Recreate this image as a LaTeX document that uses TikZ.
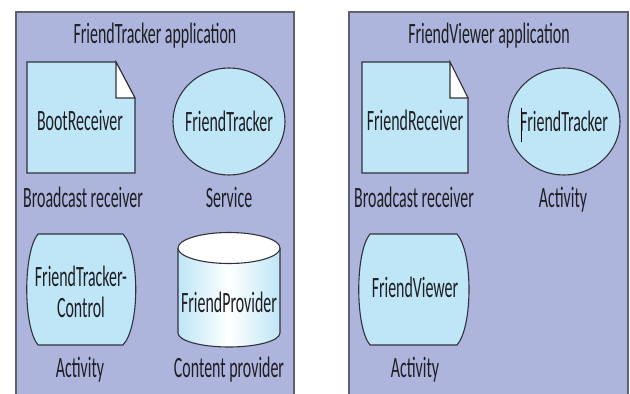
\documentclass[tikz,border=0pt]{standalone}
\usepackage{fontspec}
\setmainfont{Carlito}[FakeStretch=0.54]
\definecolor{panelfill}{RGB}{173,181,221}
\definecolor{shapefill}{RGB}{190,230,246}
\definecolor{edgecol}{RGB}{50,50,60}
\definecolor{panelline}{RGB}{95,95,110}
\definecolor{txt}{RGB}{30,30,35}
\begin{document}
\begin{tikzpicture}[x=1pt,y=-1pt,
  lbl/.style={anchor=base, inner sep=0pt, align=center, text=txt, font=\fontsize{29.5}{31}\selectfont},
  shapeline/.style={draw=edgecol, line width=1.1pt, fill=shapefill},
  panel/.style={draw=panelline, line width=1.3pt, fill=panelfill}]
\useasboundingbox (0,0) rectangle (630,394);
\clip (0,0) rectangle (630,394);
\fill[white] (0,0) rectangle (630,394);

% panels
\draw[panel] (16,12) rectangle (294,420);
\draw[panel] (349,12) rectangle (628,420);

\node[lbl] (t1) at (155,43) {FriendTracker application};
\node[lbl] (t2) at (489,43) {FriendViewer application};

% ---------- left panel ----------
% broadcast receiver document
\draw[shapeline] (27,62) -- (116,62) -- (135,98) -- (135,173) -- (27,173) -- cycle;
\draw[draw=edgecol, line width=1.1pt, fill=white] (116,62) -- (135,98) -- (116,98) -- cycle;
\node[lbl] (boot) at (80,130) {BootReceiver};
\node[lbl] (bootl) at (83,207) {Broadcast receiver};

% service circle
\draw[shapeline] (229,121.5) ellipse [x radius=56, y radius=53.5];
\node[lbl] (ft) at (229,131) {FriendTracker};
\node[lbl] (ftl) at (229,207) {Service};

% activity
\draw[shapeline] (38,234) -- (123,234) .. controls (140,252) and (140,327) .. (123,345)
  -- (38,345) .. controls (23,327) and (23,252) .. (38,234) -- cycle;
\node[lbl] (ftc) at (81,317) {FriendTracker-\\Control};
\node[lbl] (ftcl) at (80,377) {Activity};

% content provider cylinder
\shade[left color=shapefill, right color=shapefill, middle color=white]
  (178,248) -- (178,333) arc[start angle=180, end angle=0, x radius=51, y radius=14] -- (280,248) -- cycle;
\draw[draw=edgecol, line width=1.1pt]
  (178,248) -- (178,333) arc[start angle=180, end angle=0, x radius=51, y radius=14] -- (280,248);
\draw[draw=edgecol, line width=1.1pt, fill=white] (229,248) ellipse [x radius=51, y radius=15.5];
\node[lbl] (fp) at (229,312) {FriendProvider};
\node[lbl] (fpl) at (229,377) {Content provider};

% ---------- right panel ----------
\draw[shapeline] (362,62) -- (450,62) -- (468,98) -- (468,173) -- (362,173) -- cycle;
\draw[draw=edgecol, line width=1.1pt, fill=white] (450,62) -- (468,98) -- (450,98) -- cycle;
\node[lbl] (fr) at (415,130) {FriendReceiver};
\node[lbl] (frl) at (414,207) {Broadcast receiver};

\draw[shapeline] (564,121.5) ellipse [x radius=56, y radius=53.5];
\node[lbl] (ft2) at (564,131) {FriendTracker};
\node[lbl] (ft2l) at (563,207) {Activity};
\draw[draw=black, line width=0.9pt] (521,108) -- (521,142);

\draw[shapeline] (370,234) -- (457,234) .. controls (473,252) and (473,327) .. (457,345)
  -- (370,345) .. controls (355,327) and (355,252) .. (370,234) -- cycle;
\node[lbl] (fv) at (415,297) {FriendViewer};
\node[lbl] (fvl) at (415,377) {Activity};
\end{tikzpicture}
\end{document}
